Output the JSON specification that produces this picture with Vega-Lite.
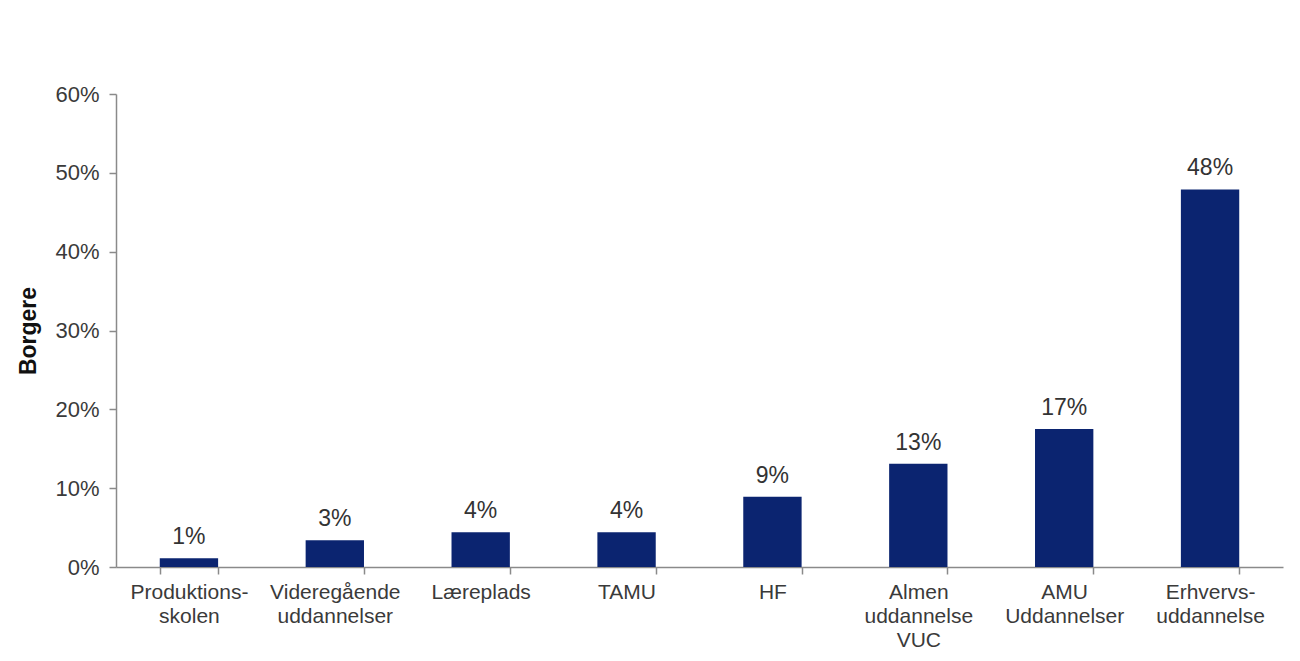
{
  "$schema": "https://vega.github.io/schema/vega-lite/v6.json",
  "width": 1167,
  "height": 473,
  "autosize": {"type": "none"},
  "padding": {"left": 116, "top": 94, "right": 17, "bottom": 94},
  "background": "white",
  "config": {"view": {"stroke": null}, "font": "Liberation Sans"},
  "data": {"values": [
    {"kategori": "Produktions-|skolen", "andel": 0.011, "label": "1%"},
    {"kategori": "Videregående|uddannelser", "andel": 0.034, "label": "3%"},
    {"kategori": "Læreplads", "andel": 0.044, "label": "4%"},
    {"kategori": "TAMU", "andel": 0.044, "label": "4%"},
    {"kategori": "HF", "andel": 0.089, "label": "9%"},
    {"kategori": "Almen|uddannelse|VUC", "andel": 0.131, "label": "13%"},
    {"kategori": "AMU|Uddannelser", "andel": 0.175, "label": "17%"},
    {"kategori": "Erhvervs-|uddannelse", "andel": 0.479, "label": "48%"}
  ]},
  "encoding": {
    "x": {"field": "kategori", "type": "nominal", "sort": null,
      "scale": {"paddingInner": 0.6, "paddingOuter": 0.3},
      "axis": {"title": null, "labelAngle": 0, "labelExpr": "split(datum.label, '|')",
        "labelFontSize": 21, "labelColor": "#3a3a3a", "labelLineHeight": 24, "labelPadding": 7,
        "tickBand": "extent", "tickSize": 7, "tickColor": "#8a8a8a", "domainColor": "#8a8a8a", "domainWidth": 1.5, "tickWidth": 1.5}},
    "y": {"field": "andel", "type": "quantitative",
      "scale": {"domain": [0, 0.6]},
      "axis": {"title": "Borgere", "format": ".0%", "values": [0, 0.1, 0.2, 0.3, 0.4, 0.5, 0.6], "grid": false,
        "labelFontSize": 22, "labelColor": "#3a3a3a", "labelPadding": 10,
        "tickSize": 7, "tickColor": "#8a8a8a", "domainColor": "#8a8a8a", "domainWidth": 1.5, "tickWidth": 1.5,
        "titleFontSize": 23, "titleFontWeight": "bold", "titleColor": "#111", "titlePadding": 14}}
  },
  "layer": [
    {"mark": {"type": "bar", "color": "#0B2470"}},
    {"mark": {"type": "text", "baseline": "bottom", "dy": -9, "fontSize": 23, "color": "#333"},
     "encoding": {"text": {"field": "label"}}}
  ]
}
